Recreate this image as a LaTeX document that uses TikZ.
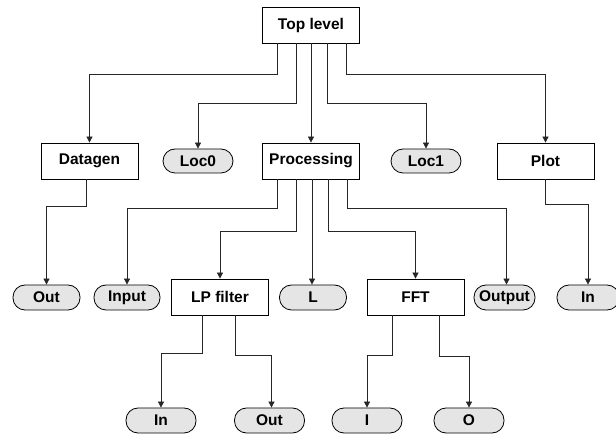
\documentclass[tikz,border=0pt]{standalone}
\usepackage{fontspec}
\setmainfont{Liberation Sans}
\usetikzlibrary{arrows.meta}
\begin{document}
\begin{tikzpicture}[x=1pt,y=-1pt,
  every node/.style={font=\fontsize{15.5}{18}\bfseries\selectfont, inner sep=0pt},
  blockbox/.style={draw=black, line width=0.8pt, fill=white, minimum width=97pt, minimum height=36pt},
  port/.style={draw=black, line width=0.8pt, fill=gray!20, rounded corners=12pt, minimum height=25pt},
  link/.style={draw=black!85, line width=0.8pt, -{Triangle[width=6pt,length=6pt]}}
]
\clip (0,0) rectangle (616,435);
\path[use as bounding box] (0,0) rectangle (616,435);

% top level
\node[blockbox] (top) at (311,25) {Top level};

% second row
\node[blockbox] (datagen) at (89.5,161) {Datagen};
\node[port, minimum width=70pt, minimum height=24pt] (loc0) at (198,161) {Loc0};
\node[blockbox] (proc) at (311,161) {Processing};
\node[port, minimum width=70pt, minimum height=24pt] (loc1) at (426,161) {Loc1};
\node[blockbox] (plot) at (545.5,161) {Plot};

% third row
\node[port, minimum width=67pt] (dgout) at (46.5,297.5) {Out};
\node[port, minimum width=66pt] (pin) at (127,297.5) {Input};
\node[blockbox] (lp) at (220,297) {LP filter};
\node[port, minimum width=67pt] (pl) at (313,297.5) {L};
\node[blockbox] (fft) at (415.5,297) {FFT};
\node[port, minimum width=61pt] (pout) at (504.5,297.5) {Output};
\node[port, minimum width=62pt] (plotin) at (588,297.5) {In};

% fourth row
\node[port, minimum width=70pt] (lpin) at (161,420.5) {In};
\node[port, minimum width=70pt] (lpout) at (269.5,420.5) {Out};
\node[port, minimum width=70pt] (ffti) at (367,420.5) {I};
\node[port, minimum width=70pt] (ffto) at (469,420.5) {O};

% connectors from the top level
\draw[link] ([xshift=-34pt]top.south) -- ++(0,31) -| (datagen.north);
\draw[link] ([xshift=-15pt]top.south) -- ++(0,60) -| (loc0.north);
\draw[link] (top.south) -- (proc.north);
\draw[link] ([xshift=16pt]top.south) -- ++(0,60) -| (loc1.north);
\draw[link] ([xshift=35pt]top.south) -- ++(0,31) -| (plot.north);

% connectors from the second row
\draw[link] ([xshift=-3pt]datagen.south) -- ++(0,27) -| (dgout.north);
\draw[link] ([xshift=-34pt]proc.south) -- ++(0,29) -| (pin.north);
\draw[link] ([xshift=-15pt]proc.south) -- ++(0,52) -| (lp.north);
\draw[link] ([xshift=1pt]proc.south) -- ([xshift=1pt]proc.south |- pl.north);
\draw[link] ([xshift=17pt]proc.south) -- ++(0,52) -| (fft.north);
\draw[link] ([xshift=36pt]proc.south) -- ++(0,29) -| ([xshift=2pt]pout.north);
\draw[link] (plot.south) -- ++(0,25) -| (plotin.north);

% connectors from the third row
\draw[link] ([xshift=-18pt]lp.south) -- ++(0,38) -| (lpin.north);
\draw[link] ([xshift=15pt]lp.south) -- ++(0,40) -| ([xshift=2pt]lpout.north);
\draw[link] ([xshift=-23pt]fft.south) -- ++(0,40) -| (ffti.north);
\draw[link] ([xshift=24pt]fft.south) -- ++(0,41) -| (ffto.north);
\end{tikzpicture}
\end{document}
